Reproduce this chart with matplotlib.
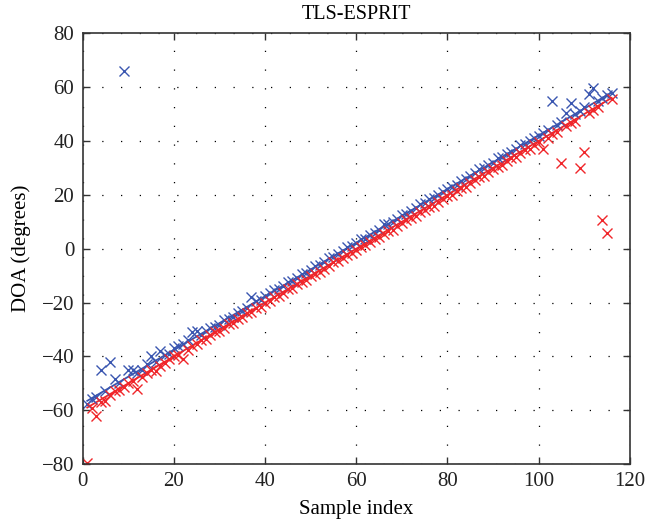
import numpy as np
import matplotlib
matplotlib.use("Agg")
import matplotlib.pyplot as plt

# sample index 1..116
samples = list(range(1, 117))

# estimated DOA (blue series)
doa_blue = [
    -57.5, -56, -55, -45, -53, -42, -48.5, -50, 66, -45,
    -45, -46, -45, -43, -40, -42, -38, -39.5, -39, -37,
    -36, -35.5, -34, -31, -30.5, -32, -30.5, -29.5, -29, -28.5,
    -26.5, -26, -25.5, -24, -23, -22, -18, -19.5, -19, -17.5,
    -16.5, -15.5, -15, -14, -12.5, -12, -11, -9.5, -9, -8,
    -6.5, -6, -5, -3.5, -3, -2, -1, 0.5, 1, 2,
    3.5, 3.5, 5, 6, 7, 9, 9, 10, 11, 12.5,
    13, 14, 15, 16.5, 17, 18.5, 19, 20, 21, 22,
    23, 23.5, 25, 26, 27, 28, 29.5, 30, 31, 32,
    33.5, 34, 35, 36, 37, 38.5, 39, 40, 41, 42,
    43, 44, 55, 46, 47, 50.5, 54, 50, 51, 52.5,
    57.5, 59.5, 55, 56, 57, 58,
]

# estimated DOA (red series)
doa_red = [
    -79.5, -59, -62, -57, -56.5, -54.5, -53, -52.5, -51.5, -50,
    -49, -52, -47.5, -46, -45, -45.5, -43.5, -42.5, -41, -40,
    -39.5, -41, -37.5, -36, -35.5, -34, -33.5, -32, -31, -30.5,
    -29.5, -28, -27.5, -26, -25.5, -24, -23.5, -22, -21.5, -20,
    -19.5, -18, -17.5, -16.5, -15, -14.5, -13, -12.5, -11.5, -10,
    -9.5, -8.5, -7.5, -6.5, -5, -4.5, -3.5, -2.5, -1.5, -0.5,
    0.5, 1.5, 2.5, 3.5, 4.5, 5.5, 6.5, 7, 8.5, 9.5,
    10.5, 11.5, 12, 13.5, 14.5, 15.5, 16, 17.5, 18.5, 19.5,
    20, 21.5, 22.5, 23, 24.5, 25.5, 26.5, 27, 28.5, 29.5,
    30.5, 31, 32.5, 33.5, 34, 35.5, 36.5, 37, 38.5, 39.5,
    37, 41, 42.5, 43.5, 32, 45.5, 46.5, 47.5, 30, 36,
    50.5, 51.5, 52.5, 10.5, 6, 55.5,
]

# true DOA lines (end points)
line_x = [1, 116]
true_blue = [-56.5, 58]
true_red = [-59, 56]

blue = '#3a56b0'
red = '#f0262a'

plt.rcParams['font.family'] = ['Liberation Serif', 'DejaVu Serif']
plt.rcParams['font.size'] = 15

fig = plt.figure(figsize=(6.46, 5.28), dpi=100)
ax = fig.add_axes([0.128, 0.121, 0.847, 0.816])

ax.plot(line_x, true_blue, color=blue, lw=1.3)
ax.plot(line_x, true_red, color=red, lw=1.3)
ax.plot(samples, doa_blue, 'x', color=blue, ms=7, mew=1.0)
ax.plot(samples, doa_red, 'x', color=red, ms=7, mew=1.0)

ax.set_xlim(0, 120)
ax.set_ylim(-80, 80)
ax.set_xticks(np.arange(0, 121, 20))
ax.set_yticks(np.arange(-80, 81, 20))
ax.set_yticklabels(['\u221280', '\u221260', '\u221240', '\u221220', '0', '20', '40', '60', '80'])
ax.grid(True, color='black', linestyle=(0, (1, 14)), linewidth=0.9)
ax.tick_params(direction='in', length=5, width=1, top=True, right=True, colors='#333333',
               labelcolor='#222222', pad=6, labelsize=15)
for s in ax.spines.values():
    s.set_linewidth(1.2)
    s.set_color('#333333')

ax.set_title('TLS-ESPRIT', fontsize=14.5, pad=10)
ax.set_xlabel('Sample index', fontsize=15, labelpad=6)
ax.set_ylabel('DOA (degrees)', fontsize=15, labelpad=8)

fig.savefig('out.png', dpi=100)
